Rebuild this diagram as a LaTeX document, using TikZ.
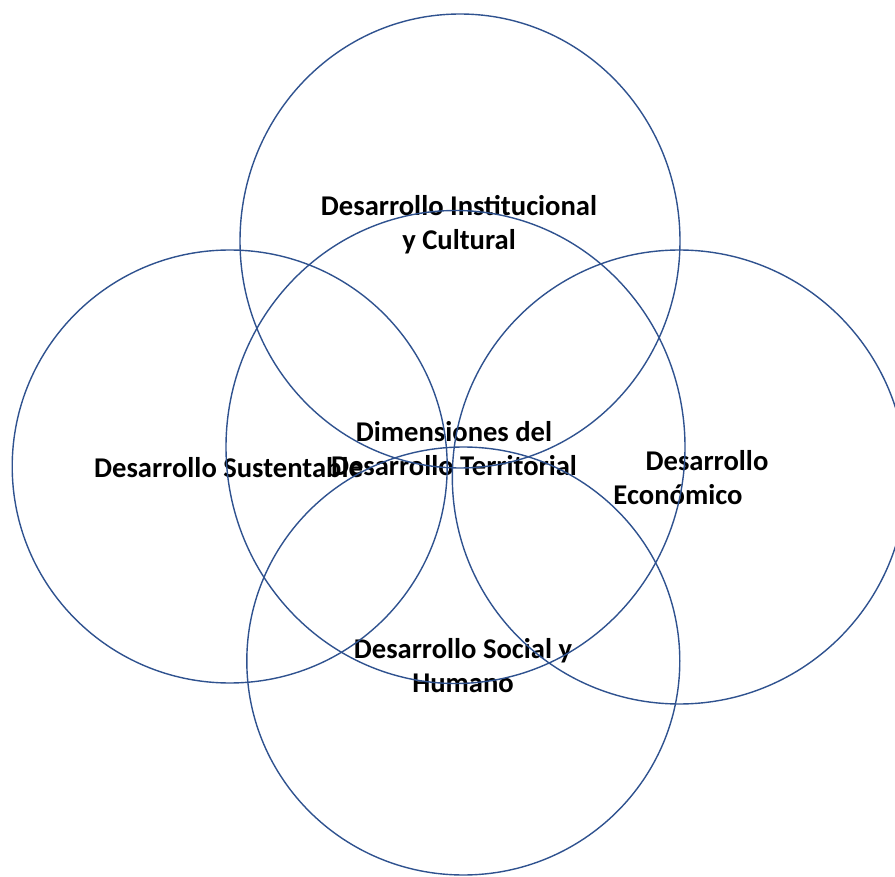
\documentclass[tikz,border=0pt]{standalone}
\usepackage{fontspec}
\setmainfont{Carlito}
\usetikzlibrary{shapes.geometric}
\definecolor{ringblue}{RGB}{47,82,143}
\tikzset{
  ring/.style={draw=ringblue, line width=1.4pt, ellipse, inner sep=0pt, outer sep=0pt},
  label/.style={font=\bfseries\fontsize{28.6pt}{34pt}\selectfont, align=center, inner sep=0pt, text=black}
}
\begin{document}
\begin{tikzpicture}[x=1pt, y=-1pt]
  \useasboundingbox (0,0) rectangle (895,877);

  % labels of the five dimensions
  \node[label] (tInst) at (459,225) {Desarrollo Institucional\\y Cultural};
  \node[label] (tSust) at (228.5,468) {Desarrollo Sustentable};
  \node[label] (tCentro) at (454,449) {Dimensiones del\\Desarrollo Territorial};
  \node[label] (tEcon) at (678,478) {\hspace*{58pt}Desarrollo\\Económico};
  \node[label] (tSoc) at (463,666) {Desarrollo Social y\\Humano};

  % overlapping rings
  \node[ring, minimum width=440pt, minimum height=454pt] (inst) at (460,241) {};
  \node[ring, minimum width=435pt, minimum height=433pt] (sust) at (229.7,466.5) {};
  \node[ring, minimum width=459pt, minimum height=473pt] (centro) at (455.5,447) {};
  \node[ring, minimum width=454pt, minimum height=454pt] (econ) at (679.3,477) {};
  \node[ring, minimum width=433pt, minimum height=428pt] (soc) at (463.3,661) {};
\end{tikzpicture}
\end{document}
